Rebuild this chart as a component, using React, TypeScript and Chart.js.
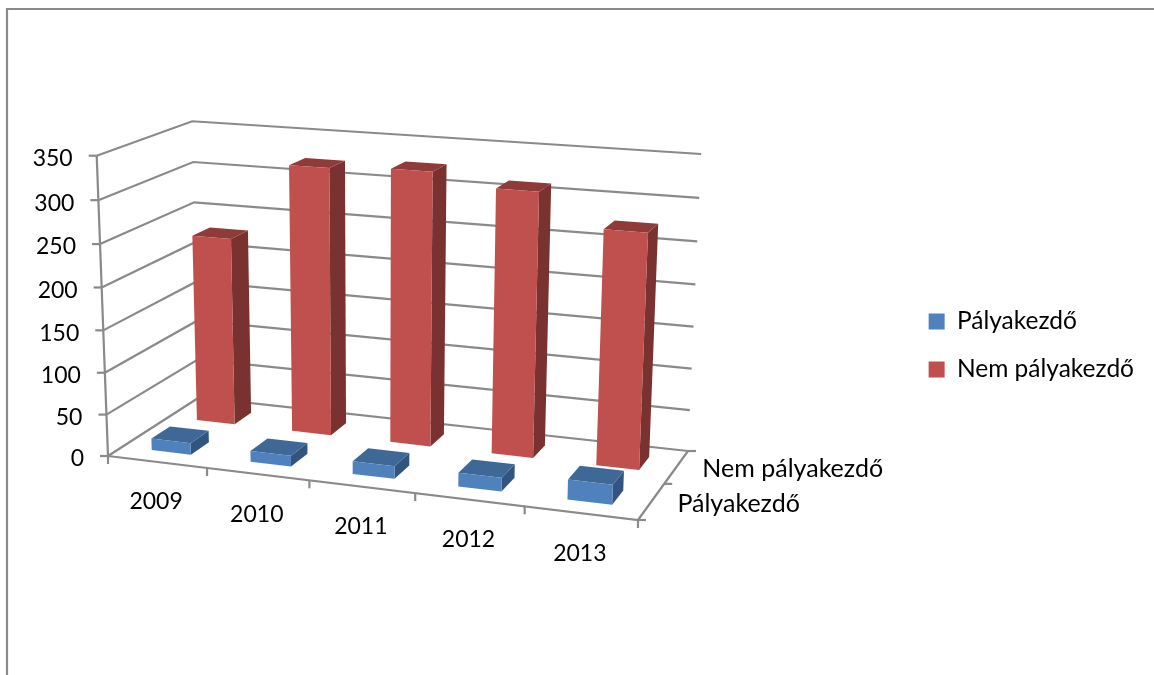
import React, { useEffect, useRef } from "react";
import { Chart, registerables } from "chart.js";

Chart.register(...registerables);

const categories = ["2009", "2010", "2011", "2012", "2013"];
const seriesNames = ["Pályakezdő", "Nem pályakezdő"];
const palyakezdo = [14, 13, 15, 16, 23];
const nemPalyakezdo = [229, 322, 326, 312, 275];
const yMax = 350;
const yStep = 50;

type Pt = [number, number];

// Corners of the 3-D box on the page.
// Floor: front-left, front-right, back-right, back-left.
const FLOOR: Pt[] = [[108, 456], [638, 520], [688, 451], [199, 397.5]];
// Top of the walls at (u, w): front-left, back-left, back-right.
const TOPS: [number, number, number, number][] = [
  [0, 0, 96, 156],
  [0, 1, 193, 121],
  [1, 1, 701, 154],
];

const FONT = "Lato";
const NUM_SIZE = 23;
const NAME_SIZE = 25;
const LEGEND_SIZE = 24.5;
const GRID = "#8a8a8a";
const TEXT = "#000000";
const FACES = [
  { front: "#4F81BD", top: "#3F6897", side: "#32557F" },
  { front: "#C0504D", top: "#8F3B39", side: "#7A3230" },
];
const BAR_FRACTION = 0.4;

function floorCoefficients(q: Pt[]) {
  const [[x0, y0], [x1, y1], [x2, y2], [x3, y3]] = q;
  const sx = x0 - x1 + x2 - x3;
  const sy = y0 - y1 + y2 - y3;
  const dx1 = x1 - x2;
  const dx2 = x3 - x2;
  const dy1 = y1 - y2;
  const dy2 = y3 - y2;
  const det = dx1 * dy2 - dx2 * dy1;
  const g = (sx * dy2 - dx2 * sy) / det;
  const h = (dx1 * sy - sx * dy1) / det;
  return { a: x1 - x0 + g * x1, b: x3 - x0 + h * x3, c: x0, d: y1 - y0 + g * y1, e: y3 - y0 + h * y3, f: y0, g, h };
}

const F = floorCoefficients(FLOOR);
const nx = (u: number, w: number) => F.a * u + F.b * w + F.c;
const ny = (u: number, w: number) => F.d * u + F.e * w + F.f;
const nq = (u: number, w: number) => F.g * u + F.h * w + 1;

// Least-squares fit of the height column (A, B, C) of the 3-D projection.
function fitHeight() {
  const rows: number[][] = [];
  for (const [u, w, x, y] of TOPS) {
    rows.push([1, 0, -x, x * nq(u, w) - nx(u, w)]);
    rows.push([0, 1, -y, y * nq(u, w) - ny(u, w)]);
  }
  const m = [0, 1, 2].map((i) => [0, 1, 2, 3].map((j) => rows.reduce((s, r) => s + r[i] * r[j], 0)));
  for (let i = 0; i < 3; i++) {
    for (let k = 0; k < 3; k++) {
      if (k === i) continue;
      const t = m[k][i] / m[i][i];
      for (let j = i; j < 4; j++) m[k][j] -= t * m[i][j];
    }
  }
  return [m[0][3] / m[0][0], m[1][3] / m[1][1], m[2][3] / m[2][2]];
}

const [hA, hB, hC] = fitHeight();

// u: along the categories, w: depth across the series, v: height, all 0..1
function project(u: number, w: number, v: number): Pt {
  const q = nq(u, w) + hC * v;
  return [(nx(u, w) + hA * v) / q, (ny(u, w) + hB * v) / q];
}

function line(ctx: CanvasRenderingContext2D, pts: Pt[]) {
  ctx.beginPath();
  pts.forEach((p, i) => (i ? ctx.lineTo(p[0], p[1]) : ctx.moveTo(p[0], p[1])));
  ctx.stroke();
}

function poly(ctx: CanvasRenderingContext2D, pts: Pt[], color: string) {
  ctx.beginPath();
  pts.forEach((p, i) => (i ? ctx.lineTo(p[0], p[1]) : ctx.moveTo(p[0], p[1])));
  ctx.closePath();
  ctx.fillStyle = color;
  ctx.fill();
}

const box3d = {
  id: "box3d",
  beforeDatasetsDraw(chart: any) {
    const ctx: CanvasRenderingContext2D = chart.ctx;
    const { x: xs, y: ys } = chart.scales;
    const vOf = (val: number) => (ys.bottom - ys.getPixelForValue(val)) / (ys.bottom - ys.top);
    const uOf = (px: number) => (px - xs.left) / (xs.right - xs.left);

    ctx.save();
    ctx.strokeStyle = GRID;
    ctx.lineWidth = 2.2;
    // page frame
    line(ctx, [[7, 675], [7, 9], [1154, 9]]);
    // walls
    for (const t of ys.ticks) {
      const v = vOf(t.value);
      line(ctx, [project(0, 0, v), project(0, 1, v), project(1, 1, v)]);
      const a = project(0, 0, v);
      line(ctx, [[a[0] - 8, a[1]], a]);
    }
    line(ctx, [project(0, 0, 0), project(0, 0, 1)]);
    // floor
    line(ctx, [project(0, 0, 0), project(1, 0, 0), project(1, 1, 0)]);
    // category ticks
    categories.forEach((_, i) => {
      const edge = xs.getPixelForValue(i) + (xs.getPixelForValue(1) - xs.getPixelForValue(0)) / 2;
      const p = project(uOf(edge), 0, 0);
      line(ctx, [p, [p[0], p[1] + 8]]);
    });
    const start = project(0, 0, 0);
    line(ctx, [start, [start[0], start[1] + 8]]);
    // series ticks
    [0, 0.5, 1].forEach((w) => {
      const p = project(1, w, 0);
      line(ctx, [p, [p[0] + 8, p[1]]]);
    });

    // texts
    ctx.fillStyle = TEXT;
    ctx.font = `${NUM_SIZE}px ${FONT}`;
    ctx.textBaseline = "middle";
    ctx.textAlign = "right";
    for (const t of ys.ticks) {
      const p = project(0, 0, vOf(t.value));
      ctx.fillText(String(t.label), p[0] - 24, p[1] + 3);
    }
    ctx.textAlign = "center";
    categories.forEach((c, i) => {
      const p = project(uOf(xs.getPixelForValue(i)), 0, 0);
      ctx.fillText(c, p[0] - 1, p[1] + 40);
    });
    ctx.font = `${NAME_SIZE}px ${FONT}`;
    ctx.textAlign = "left";
    seriesNames.forEach((s, i) => {
      const p = project(1, (i + 0.5) / seriesNames.length, 0);
      ctx.fillText(s, p[0] + 26, p[1] + 2);
    });
    ctx.restore();
  },
  beforeDatasetDraw(chart: any, args: any) {
    const ctx: CanvasRenderingContext2D = chart.ctx;
    const { x: xs, y: ys } = chart.scales;
    const di: number = args.index;
    const faces = FACES[di];
    const slot = 1 / seriesNames.length;
    const w0 = (di + 0.5) * slot - (BAR_FRACTION * slot) / 2;
    const w1 = (di + 0.5) * slot + (BAR_FRACTION * slot) / 2;
    for (const el of args.meta.data) {
      const u0 = (el.x - el.width / 2 - xs.left) / (xs.right - xs.left);
      const u1 = (el.x + el.width / 2 - xs.left) / (xs.right - xs.left);
      const v = (ys.bottom - el.y) / (ys.bottom - ys.top);
      poly(ctx, [project(u1, w0, 0), project(u1, w1, 0), project(u1, w1, v), project(u1, w0, v)], faces.side);
      poly(ctx, [project(u0, w0, v), project(u1, w0, v), project(u1, w1, v), project(u0, w1, v)], faces.top);
      poly(ctx, [project(u0, w0, 0), project(u1, w0, 0), project(u1, w0, v), project(u0, w0, v)], faces.front);
    }
    return false;
  },
};

export default function App() {
  const ref = useRef<HTMLCanvasElement>(null);
  useEffect(() => {
    const chart = new Chart(ref.current!, {
      type: "bar",
      data: {
        labels: categories,
        datasets: [
          { label: seriesNames[0], data: palyakezdo, backgroundColor: FACES[0].front },
          { label: seriesNames[1], data: nemPalyakezdo, backgroundColor: FACES[1].front },
        ],
      },
      plugins: [box3d],
      options: {
        responsive: false,
        animation: false,
        datasets: { bar: { grouped: false, barPercentage: BAR_FRACTION, categoryPercentage: 1 } },
        layout: { padding: { top: 16, right: 10, left: 0, bottom: 0 } },
        scales: {
          x: { display: false },
          y: { display: false, min: 0, max: yMax, ticks: { stepSize: yStep } },
        },
        plugins: {
          tooltip: { enabled: false },
          legend: {
            position: "right",
            labels: {
              color: TEXT,
              boxWidth: 16,
              boxHeight: 16,
              padding: 23.5,
              font: { family: FONT, size: LEGEND_SIZE },
            },
          },
        },
      },
    } as any);
    return () => chart.destroy();
  }, []);
  return (
    <div style={{ position: "absolute", left: 0, top: 0, width: 1154, height: 675, background: "#fff" }}>
      <canvas ref={ref} width={1154} height={675} style={{ display: "block" }} />
    </div>
  );
}
